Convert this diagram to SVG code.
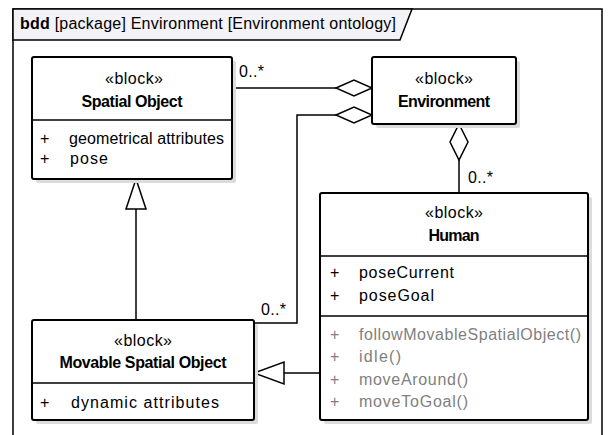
<svg xmlns="http://www.w3.org/2000/svg" width="608" height="435" viewBox="0 0 608 435">
<style>
text{font-family:"Liberation Sans",Arial,sans-serif;font-size:16px;fill:#000}
.c{text-anchor:middle}
.b{font-weight:bold}
.g{fill:#808080}
.box{fill:#fff;stroke:#000;stroke-width:2}
.sh{fill:#dcdcdc}
.div{stroke:#000;stroke-width:1.5}
.ln{fill:none;stroke:#000;stroke-width:1.5}
.dia{fill:#fff;stroke:#000;stroke-width:1.5}
</style>
<rect width="608" height="435" fill="#fff"/>
<g id="frame">
<rect x="13" y="9" width="589" height="440" fill="none" stroke="#000" stroke-width="1.5"/>
<polygon points="13,9 412,9 400,40 13,40" fill="#f3f2f6" stroke="#000" stroke-width="1.5"/>
<text x="20" y="29" textLength="376"><tspan class="b">bdd</tspan> [package] Environment [Environment ontology]</text>
</g>
<g id="connectors">
<polyline class="ln" points="232,88 336,88"/>
<polygon class="dia" points="336,88 354,80 372,88 354,96"/>
<text x="239" y="77" textLength="25">0..*</text>
<polyline class="ln" points="336,115 297,115 297,323 254,323"/>
<polygon class="dia" points="336,115 354,107 372,115 354,123"/>
<text x="261" y="315" textLength="25">0..*</text>
<polyline class="ln" points="459,160 459,193"/>
<polygon class="dia" points="459,124 468,142 459,160 450,142"/>
<text x="468" y="183" textLength="25">0..*</text>
<polyline class="ln" points="136,320 136,209"/>
<polygon class="dia" points="136,179 146,209 126,209"/>
<polyline class="ln" points="320,373 284,373"/>
<polygon class="dia" points="254,373 284,362 284,384"/>
</g>
<g id="spatial-object">
<rect class="sh" x="36" y="61" width="200" height="122" rx="2"/>
<rect class="box" x="32" y="57" width="200" height="122" rx="2"/>
<line class="div" x1="32" y1="120" x2="232" y2="120"/>
<text class="c" x="134" y="84" textLength="58">«block»</text>
<text class="c b" x="132" y="107" textLength="101">Spatial Object</text>
<text x="40" y="144">+</text>
<text x="69" y="144" textLength="155">geometrical attributes</text>
<text x="40" y="164">+</text>
<text x="70" y="164" textLength="38">pose</text>
</g>
<g id="environment">
<rect class="sh" x="376" y="61" width="144" height="67" rx="2"/>
<rect class="box" x="372" y="57" width="144" height="67" rx="2"/>
<text class="c" x="444" y="84" textLength="58">«block»</text>
<text class="c b" x="444" y="107" textLength="92">Environment</text>
</g>
<g id="human">
<rect class="sh" x="324" y="197" width="268" height="227" rx="2"/>
<rect class="box" x="320" y="193" width="268" height="227" rx="2"/>
<line class="div" x1="320" y1="256" x2="588" y2="256"/>
<line class="div" x1="320" y1="316" x2="588" y2="316"/>
<text class="c" x="454" y="218" textLength="58">«block»</text>
<text class="c b" x="454" y="241" textLength="51">Human</text>
<text x="330" y="278">+</text>
<text x="359" y="278" textLength="95">poseCurrent</text>
<text x="330" y="301">+</text>
<text x="359" y="301" textLength="75">poseGoal</text>
<text class="g" x="330" y="340">+</text>
<text class="g" x="359" y="340" textLength="222">followMovableSpatialObject()</text>
<text class="g" x="330" y="362">+</text>
<text class="g" x="359" y="362" textLength="42">idle()</text>
<text class="g" x="330" y="385">+</text>
<text class="g" x="359" y="385" textLength="109">moveAround()</text>
<text class="g" x="330" y="407">+</text>
<text class="g" x="359" y="407" textLength="109">moveToGoal()</text>
</g>
<g id="movable-spatial-object">
<rect class="sh" x="36" y="324" width="222" height="100" rx="2"/>
<rect class="box" x="32" y="320" width="222" height="100" rx="2"/>
<line class="div" x1="32" y1="383" x2="254" y2="383"/>
<text class="c" x="143" y="346" textLength="58">«block»</text>
<text class="c b" x="143" y="368" textLength="167">Movable Spatial Object</text>
<text x="40" y="408">+</text>
<text x="71" y="408" textLength="148">dynamic attributes</text>
</g>
</svg>
